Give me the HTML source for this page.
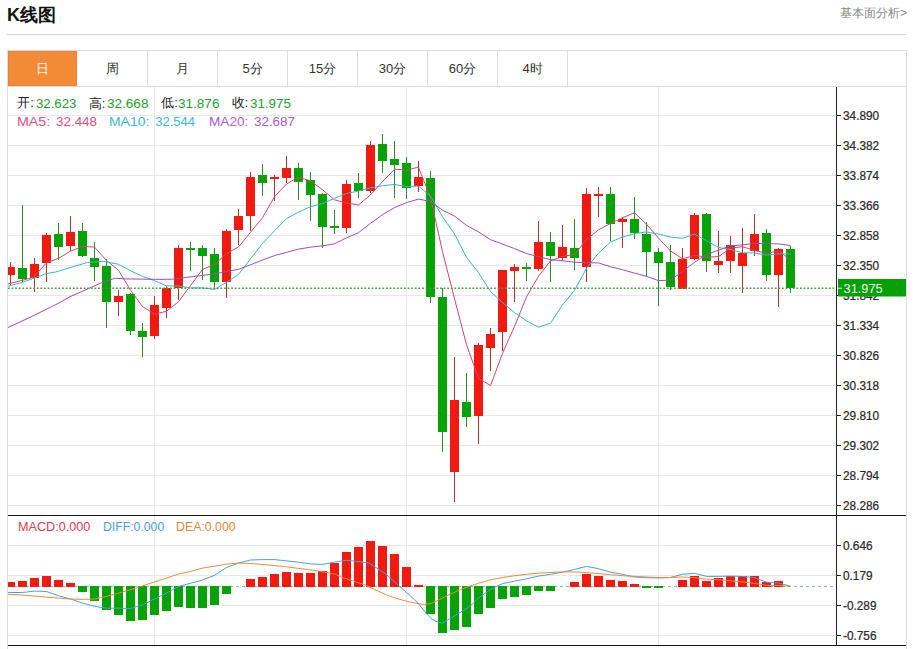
<!DOCTYPE html>
<html><head><meta charset="utf-8"><style>
html,body{margin:0;padding:0;background:#fff;width:913px;height:649px;overflow:hidden;position:relative;font-family:"Liberation Sans",sans-serif;}
.title{position:absolute;left:7px;top:2.5px;font-size:18px;font-weight:bold;color:#111;line-height:24px;}
.more{position:absolute;right:6px;top:5px;font-size:12px;color:#888;line-height:16px;}
.hr{position:absolute;left:7px;top:34px;width:899px;height:1px;background:#d0d0d0;}
.box{position:absolute;left:7px;top:50px;width:898px;height:599px;border:1px solid #ddd;border-bottom:none;}
.tabrow{position:absolute;left:7px;top:86px;width:899px;height:1px;background:#ddd;}
.tab{position:absolute;top:51px;width:70px;height:35px;line-height:35px;text-align:center;font-size:13px;color:#333;border-right:1px solid #ddd;box-sizing:border-box;}
.tab.on{background:#f38b36;color:#fffbef;border:1px solid #e2843e;width:69px;height:35px;line-height:33px;}
.info{position:absolute;left:18px;top:94px;font-size:13px;line-height:17px;color:#333;white-space:pre;}
.g{color:#2a9d3a}
</style></head><body>
<div class="title">K线图</div>
<div class="more">基本面分析&gt;</div>
<div class="hr"></div>
<div class="box"></div>
<div class="tab on" style="left:8px">日</div><div class="tab" style="left:78px">周</div><div class="tab" style="left:148px">月</div><div class="tab" style="left:218px">5分</div><div class="tab" style="left:288px">15分</div><div class="tab" style="left:358px">30分</div><div class="tab" style="left:428px">60分</div><div class="tab" style="left:498px">4时</div>
<div class="tabrow"></div>
<svg width="913" height="649" style="position:absolute;left:0;top:0"><line x1="8" y1="115.5" x2="836" y2="115.5" stroke="#e8e8e8" stroke-width="1"/>
<line x1="8" y1="145.5" x2="836" y2="145.5" stroke="#e8e8e8" stroke-width="1"/>
<line x1="8" y1="175.5" x2="836" y2="175.5" stroke="#e8e8e8" stroke-width="1"/>
<line x1="8" y1="205.5" x2="836" y2="205.5" stroke="#e8e8e8" stroke-width="1"/>
<line x1="8" y1="235.5" x2="836" y2="235.5" stroke="#e8e8e8" stroke-width="1"/>
<line x1="8" y1="265.5" x2="836" y2="265.5" stroke="#e8e8e8" stroke-width="1"/>
<line x1="8" y1="295.5" x2="836" y2="295.5" stroke="#e8e8e8" stroke-width="1"/>
<line x1="8" y1="325.5" x2="836" y2="325.5" stroke="#e8e8e8" stroke-width="1"/>
<line x1="8" y1="355.5" x2="836" y2="355.5" stroke="#e8e8e8" stroke-width="1"/>
<line x1="8" y1="385.5" x2="836" y2="385.5" stroke="#e8e8e8" stroke-width="1"/>
<line x1="8" y1="415.5" x2="836" y2="415.5" stroke="#e8e8e8" stroke-width="1"/>
<line x1="8" y1="445.5" x2="836" y2="445.5" stroke="#e8e8e8" stroke-width="1"/>
<line x1="8" y1="475.5" x2="836" y2="475.5" stroke="#e8e8e8" stroke-width="1"/>
<line x1="8" y1="505.5" x2="836" y2="505.5" stroke="#e8e8e8" stroke-width="1"/>
<line x1="8" y1="545.5" x2="836" y2="545.5" stroke="#e8e8e8" stroke-width="1"/>
<line x1="8" y1="575.5" x2="836" y2="575.5" stroke="#e8e8e8" stroke-width="1"/>
<line x1="8" y1="605.5" x2="836" y2="605.5" stroke="#e8e8e8" stroke-width="1"/>
<line x1="8" y1="635.5" x2="836" y2="635.5" stroke="#e8e8e8" stroke-width="1"/>
<line x1="154.5" y1="87" x2="154.5" y2="645" stroke="#e8e8e8" stroke-width="1"/>
<line x1="406.5" y1="87" x2="406.5" y2="645" stroke="#e8e8e8" stroke-width="1"/>
<line x1="658.5" y1="87" x2="658.5" y2="645" stroke="#e8e8e8" stroke-width="1"/>
<g shape-rendering="crispEdges">
<rect x="10.0" y="262.0" width="1" height="23.5" fill="#b83030"/>
<rect x="8.0" y="267.0" width="7.0" height="7.5" fill="#f01a10"/>
<rect x="22.0" y="204.5" width="1" height="77.5" fill="#2e8a2e"/>
<rect x="18.0" y="268.0" width="9.0" height="11.3" fill="#06a206"/>
<rect x="34.0" y="257.8" width="1" height="33.9" fill="#b83030"/>
<rect x="30.0" y="264.0" width="9.0" height="14.0" fill="#f01a10"/>
<rect x="46.0" y="233.0" width="1" height="49.0" fill="#b83030"/>
<rect x="42.0" y="234.5" width="9.0" height="28.5" fill="#f01a10"/>
<rect x="58.0" y="223.2" width="1" height="36.3" fill="#2e8a2e"/>
<rect x="54.0" y="234.0" width="9.0" height="12.6" fill="#06a206"/>
<rect x="70.0" y="216.0" width="1" height="34.5" fill="#b83030"/>
<rect x="66.0" y="231.6" width="9.0" height="14.8" fill="#f01a10"/>
<rect x="82.0" y="223.4" width="1" height="33.8" fill="#2e8a2e"/>
<rect x="78.0" y="231.3" width="9.0" height="24.2" fill="#06a206"/>
<rect x="94.0" y="242.4" width="1" height="38.5" fill="#2e8a2e"/>
<rect x="90.0" y="258.4" width="9.0" height="8.2" fill="#06a206"/>
<rect x="106.0" y="258.7" width="1" height="69.5" fill="#2e8a2e"/>
<rect x="102.0" y="266.1" width="9.0" height="36.2" fill="#06a206"/>
<rect x="118.0" y="290.0" width="1" height="26.4" fill="#b83030"/>
<rect x="114.0" y="295.7" width="9.0" height="6.6" fill="#f01a10"/>
<rect x="130.0" y="293.2" width="1" height="41.9" fill="#2e8a2e"/>
<rect x="126.0" y="294.2" width="9.0" height="36.5" fill="#06a206"/>
<rect x="142.0" y="322.5" width="1" height="34.1" fill="#2e8a2e"/>
<rect x="138.0" y="331.0" width="9.0" height="6.0" fill="#06a206"/>
<rect x="154.0" y="296.0" width="1" height="42.5" fill="#b83030"/>
<rect x="150.0" y="305.0" width="9.0" height="31.4" fill="#f01a10"/>
<rect x="166.0" y="286.0" width="1" height="32.1" fill="#b83030"/>
<rect x="162.0" y="288.0" width="9.0" height="19.8" fill="#f01a10"/>
<rect x="178.0" y="244.9" width="1" height="55.1" fill="#b83030"/>
<rect x="174.0" y="247.9" width="9.0" height="40.4" fill="#f01a10"/>
<rect x="190.0" y="241.7" width="1" height="29.6" fill="#2e8a2e"/>
<rect x="186.0" y="247.6" width="9.0" height="2.3" fill="#06a206"/>
<rect x="202.0" y="245.4" width="1" height="34.6" fill="#2e8a2e"/>
<rect x="198.0" y="247.6" width="9.0" height="8.4" fill="#06a206"/>
<rect x="214.0" y="248.1" width="1" height="41.2" fill="#2e8a2e"/>
<rect x="210.0" y="254.0" width="9.0" height="27.9" fill="#06a206"/>
<rect x="226.0" y="229.4" width="1" height="68.6" fill="#b83030"/>
<rect x="222.0" y="231.4" width="9.0" height="51.0" fill="#f01a10"/>
<rect x="238.0" y="209.2" width="1" height="35.8" fill="#b83030"/>
<rect x="234.0" y="215.8" width="9.0" height="14.3" fill="#f01a10"/>
<rect x="250.0" y="171.7" width="1" height="59.2" fill="#b83030"/>
<rect x="246.0" y="176.6" width="9.0" height="39.2" fill="#f01a10"/>
<rect x="262.0" y="164.0" width="1" height="32.4" fill="#2e8a2e"/>
<rect x="258.0" y="175.0" width="9.0" height="7.8" fill="#06a206"/>
<rect x="274.0" y="174.7" width="1" height="26.7" fill="#b83030"/>
<rect x="270.0" y="176.7" width="9.0" height="2.5" fill="#f01a10"/>
<rect x="286.0" y="155.7" width="1" height="27.2" fill="#b83030"/>
<rect x="282.0" y="168.1" width="9.0" height="10.3" fill="#f01a10"/>
<rect x="298.0" y="163.1" width="1" height="37.0" fill="#2e8a2e"/>
<rect x="294.0" y="168.1" width="9.0" height="13.5" fill="#06a206"/>
<rect x="310.0" y="171.8" width="1" height="49.3" fill="#2e8a2e"/>
<rect x="306.0" y="179.7" width="9.0" height="15.0" fill="#06a206"/>
<rect x="322.0" y="192.7" width="1" height="55.0" fill="#2e8a2e"/>
<rect x="318.0" y="194.0" width="9.0" height="33.2" fill="#06a206"/>
<rect x="334.0" y="210.0" width="1" height="23.9" fill="#2e8a2e"/>
<rect x="330.0" y="225.5" width="9.0" height="2.0" fill="#06a206"/>
<rect x="346.0" y="180.4" width="1" height="52.5" fill="#b83030"/>
<rect x="342.0" y="184.1" width="9.0" height="43.6" fill="#f01a10"/>
<rect x="358.0" y="173.0" width="1" height="24.7" fill="#2e8a2e"/>
<rect x="354.0" y="183.1" width="9.0" height="7.9" fill="#06a206"/>
<rect x="370.0" y="141.0" width="1" height="51.7" fill="#b83030"/>
<rect x="366.0" y="144.7" width="9.0" height="46.3" fill="#f01a10"/>
<rect x="382.0" y="134.3" width="1" height="38.2" fill="#2e8a2e"/>
<rect x="378.0" y="143.9" width="9.0" height="17.5" fill="#06a206"/>
<rect x="394.0" y="141.0" width="1" height="56.7" fill="#2e8a2e"/>
<rect x="390.0" y="159.0" width="9.0" height="5.9" fill="#06a206"/>
<rect x="406.0" y="156.5" width="1" height="42.9" fill="#2e8a2e"/>
<rect x="402.0" y="163.1" width="9.0" height="24.7" fill="#06a206"/>
<rect x="418.0" y="160.7" width="1" height="31.3" fill="#b83030"/>
<rect x="414.0" y="177.2" width="9.0" height="8.9" fill="#f01a10"/>
<rect x="430.0" y="171.3" width="1" height="131.8" fill="#2e8a2e"/>
<rect x="426.0" y="178.2" width="9.0" height="118.5" fill="#06a206"/>
<rect x="442.0" y="288.0" width="1" height="164.4" fill="#2e8a2e"/>
<rect x="438.0" y="297.1" width="9.0" height="134.6" fill="#06a206"/>
<rect x="454.0" y="357.1" width="1" height="144.5" fill="#b83030"/>
<rect x="450.0" y="400.2" width="9.0" height="71.8" fill="#f01a10"/>
<rect x="466.0" y="373.2" width="1" height="53.3" fill="#2e8a2e"/>
<rect x="462.0" y="401.9" width="9.0" height="15.1" fill="#06a206"/>
<rect x="478.0" y="343.0" width="1" height="100.8" fill="#b83030"/>
<rect x="474.0" y="345.2" width="9.0" height="70.7" fill="#f01a10"/>
<rect x="490.0" y="328.0" width="1" height="43.1" fill="#b83030"/>
<rect x="486.0" y="333.8" width="9.0" height="14.6" fill="#f01a10"/>
<rect x="502.0" y="269.7" width="1" height="80.9" fill="#b83030"/>
<rect x="498.0" y="270.1" width="9.0" height="61.5" fill="#f01a10"/>
<rect x="514.0" y="263.9" width="1" height="38.2" fill="#b83030"/>
<rect x="510.0" y="266.5" width="9.0" height="4.3" fill="#f01a10"/>
<rect x="526.0" y="263.2" width="1" height="17.9" fill="#2e8a2e"/>
<rect x="522.0" y="267.1" width="9.0" height="2.0" fill="#06a206"/>
<rect x="538.0" y="221.4" width="1" height="49.3" fill="#b83030"/>
<rect x="534.0" y="242.1" width="9.0" height="26.6" fill="#f01a10"/>
<rect x="550.0" y="231.7" width="1" height="49.8" fill="#2e8a2e"/>
<rect x="546.0" y="241.6" width="9.0" height="14.8" fill="#06a206"/>
<rect x="562.0" y="224.8" width="1" height="36.5" fill="#b83030"/>
<rect x="558.0" y="247.2" width="9.0" height="11.1" fill="#f01a10"/>
<rect x="574.0" y="218.9" width="1" height="51.0" fill="#2e8a2e"/>
<rect x="570.0" y="247.7" width="9.0" height="9.9" fill="#06a206"/>
<rect x="586.0" y="187.8" width="1" height="93.7" fill="#b83030"/>
<rect x="582.0" y="194.2" width="9.0" height="72.5" fill="#f01a10"/>
<rect x="598.0" y="187.3" width="1" height="30.1" fill="#b83030"/>
<rect x="594.0" y="194.2" width="9.0" height="2.0" fill="#f01a10"/>
<rect x="610.0" y="186.8" width="1" height="54.3" fill="#2e8a2e"/>
<rect x="606.0" y="194.0" width="9.0" height="29.6" fill="#06a206"/>
<rect x="622.0" y="216.9" width="1" height="30.8" fill="#b83030"/>
<rect x="618.0" y="218.9" width="9.0" height="2.9" fill="#f01a10"/>
<rect x="634.0" y="196.7" width="1" height="42.4" fill="#2e8a2e"/>
<rect x="630.0" y="218.9" width="9.0" height="14.0" fill="#06a206"/>
<rect x="646.0" y="221.6" width="1" height="54.2" fill="#2e8a2e"/>
<rect x="642.0" y="233.5" width="9.0" height="18.5" fill="#06a206"/>
<rect x="658.0" y="247.7" width="1" height="58.0" fill="#2e8a2e"/>
<rect x="654.0" y="252.2" width="9.0" height="11.1" fill="#06a206"/>
<rect x="670.0" y="245.3" width="1" height="45.1" fill="#2e8a2e"/>
<rect x="666.0" y="262.0" width="9.0" height="25.2" fill="#06a206"/>
<rect x="682.0" y="247.7" width="1" height="41.2" fill="#b83030"/>
<rect x="678.0" y="259.3" width="9.0" height="29.6" fill="#f01a10"/>
<rect x="694.0" y="213.2" width="1" height="46.8" fill="#b83030"/>
<rect x="690.0" y="215.0" width="9.0" height="43.8" fill="#f01a10"/>
<rect x="706.0" y="213.2" width="1" height="58.4" fill="#2e8a2e"/>
<rect x="702.0" y="214.0" width="9.0" height="46.8" fill="#06a206"/>
<rect x="718.0" y="231.2" width="1" height="41.9" fill="#b83030"/>
<rect x="714.0" y="260.6" width="9.0" height="3.9" fill="#f01a10"/>
<rect x="730.0" y="235.9" width="1" height="37.4" fill="#b83030"/>
<rect x="726.0" y="244.6" width="9.0" height="16.0" fill="#f01a10"/>
<rect x="742.0" y="228.0" width="1" height="65.3" fill="#b83030"/>
<rect x="738.0" y="252.7" width="9.0" height="13.0" fill="#f01a10"/>
<rect x="754.0" y="214.4" width="1" height="41.3" fill="#b83030"/>
<rect x="750.0" y="233.7" width="9.0" height="17.2" fill="#f01a10"/>
<rect x="766.0" y="228.7" width="1" height="52.7" fill="#2e8a2e"/>
<rect x="762.0" y="232.9" width="9.0" height="42.0" fill="#06a206"/>
<rect x="778.0" y="248.4" width="1" height="58.8" fill="#b83030"/>
<rect x="774.0" y="249.0" width="9.0" height="25.5" fill="#f01a10"/>
<rect x="790.0" y="246.2" width="1" height="46.8" fill="#2e8a2e"/>
<rect x="786.0" y="249.0" width="9.0" height="38.5" fill="#06a206"/>
</g>
<polyline points="8.0,283.9 22.3,280.4 33.9,277.0 46.2,263.1 58.5,258.3 70.5,251.2 82.5,246.4 94.5,247.0 106.5,260.5 118.5,270.3 130.5,290.2 142.5,306.5 154.5,314.1 166.5,311.3 178.5,301.7 190.5,285.6 202.5,269.4 214.5,264.7 226.5,253.4 238.5,247.0 250.5,232.3 262.5,217.7 274.5,196.7 286.5,184.0 298.5,177.2 310.5,180.8 322.5,189.7 334.5,199.8 346.5,203.0 358.5,204.9 370.5,194.9 382.5,181.7 394.5,169.2 406.5,170.0 418.5,167.2 430.5,197.6 442.5,251.7 454.5,298.7 466.5,344.6 478.5,378.2 490.5,385.6 502.5,353.3 514.5,326.5 526.5,296.9 538.5,276.3 550.5,260.8 562.5,256.3 574.5,254.5 586.5,239.5 598.5,229.9 610.5,223.4 622.5,217.7 634.5,212.8 646.5,224.3 658.5,238.1 670.5,250.9 682.5,258.9 694.5,255.4 706.5,257.1 718.5,256.6 730.5,248.1 742.5,246.7 754.5,250.5 766.5,253.3 778.5,251.0 790.5,259.6" fill="none" stroke="#d4456c" stroke-width="1" stroke-linejoin="round"/>
<polyline points="8.0,286.2 22.3,282.4 33.9,278.2 46.2,273.6 55.5,272.0 60.0,270.7 74.2,266.3 87.4,262.5 103.8,261.4 118.5,264.3 130.5,270.7 142.5,276.4 154.5,280.6 166.5,285.9 178.5,286.0 190.5,287.9 202.5,287.9 214.5,289.4 226.5,282.4 238.5,274.4 250.5,258.9 262.5,243.5 274.5,230.7 286.5,218.7 298.5,212.1 310.5,206.6 322.5,203.7 334.5,198.2 346.5,193.5 358.5,191.0 370.5,187.8 382.5,185.7 394.5,184.5 406.5,186.5 418.5,186.1 430.5,196.2 442.5,216.7 454.5,234.0 466.5,257.3 478.5,272.7 490.5,291.6 502.5,302.5 514.5,312.6 526.5,320.8 538.5,327.2 550.5,323.2 562.5,304.8 574.5,290.5 586.5,268.2 598.5,253.1 610.5,242.1 622.5,237.0 634.5,233.6 646.5,231.9 658.5,234.0 670.5,237.1 682.5,238.3 694.5,234.1 706.5,240.7 718.5,247.4 730.5,249.5 742.5,252.8 754.5,252.9 766.5,255.2 778.5,253.8 790.5,253.8" fill="none" stroke="#38b6c4" stroke-width="1" stroke-linejoin="round"/>
<polyline points="8.0,327.5 33.0,315.9 59.0,303.0 70.0,296.7 81.9,291.5 101.6,282.7 114.8,278.3 125.7,278.9 160.0,279.4 171.9,279.2 193.8,276.5 215.7,273.7 238.5,269.3 250.5,264.8 262.5,260.0 274.5,255.6 286.5,252.3 298.5,249.1 310.5,247.2 322.5,245.8 334.5,243.8 346.5,237.9 358.5,232.7 370.5,223.4 382.5,214.6 394.5,207.6 406.5,202.6 418.5,199.1 430.5,201.4 442.5,210.2 454.5,216.1 466.5,225.4 478.5,231.9 490.5,239.7 502.5,244.1 514.5,248.6 526.5,253.6 538.5,256.6 550.5,259.7 562.5,260.7 574.5,262.2 586.5,262.7 598.5,262.9 610.5,266.8 622.5,269.7 634.5,273.1 646.5,276.3 658.5,280.6 670.5,280.2 682.5,271.5 694.5,262.3 706.5,254.5 718.5,250.2 730.5,245.8 742.5,244.9 754.5,243.3 766.5,243.6 778.5,243.9 790.5,245.5" fill="none" stroke="#9c50b4" stroke-width="1" stroke-linejoin="round"/>
<line x1="8" y1="288.2" x2="836" y2="288.2" stroke="#4f9a4f" stroke-width="1.4" stroke-dasharray="1.8,1.8"/>
<line x1="8" y1="586.5" x2="836" y2="586.5" stroke="#98aeb4" stroke-width="1" stroke-dasharray="3,3"/>
<g shape-rendering="crispEdges">
<rect x="8.0" y="582.2" width="7.0" height="4.8" fill="#f01a10"/>
<rect x="18.0" y="581.3" width="9.0" height="5.7" fill="#f01a10"/>
<rect x="30.0" y="578.0" width="9.0" height="9.0" fill="#f01a10"/>
<rect x="42.0" y="575.8" width="9.0" height="11.2" fill="#f01a10"/>
<rect x="54.0" y="579.7" width="9.0" height="7.3" fill="#f01a10"/>
<rect x="66.0" y="583.3" width="9.0" height="3.7" fill="#f01a10"/>
<rect x="78.0" y="586.0" width="9.0" height="6.1" fill="#06a206"/>
<rect x="90.0" y="586.0" width="9.0" height="14.6" fill="#06a206"/>
<rect x="102.0" y="586.0" width="9.0" height="23.6" fill="#06a206"/>
<rect x="114.0" y="586.0" width="9.0" height="28.8" fill="#06a206"/>
<rect x="126.0" y="586.0" width="9.0" height="34.7" fill="#06a206"/>
<rect x="138.0" y="586.0" width="9.0" height="34.2" fill="#06a206"/>
<rect x="150.0" y="586.0" width="9.0" height="29.1" fill="#06a206"/>
<rect x="162.0" y="586.0" width="9.0" height="25.3" fill="#06a206"/>
<rect x="174.0" y="586.0" width="9.0" height="21.3" fill="#06a206"/>
<rect x="186.0" y="586.0" width="9.0" height="22.2" fill="#06a206"/>
<rect x="198.0" y="586.0" width="9.0" height="22.0" fill="#06a206"/>
<rect x="210.0" y="586.0" width="9.0" height="19.0" fill="#06a206"/>
<rect x="222.0" y="586.0" width="9.0" height="7.8" fill="#06a206"/>
<rect x="246.0" y="579.3" width="9.0" height="7.7" fill="#f01a10"/>
<rect x="258.0" y="577.3" width="9.0" height="9.7" fill="#f01a10"/>
<rect x="270.0" y="574.4" width="9.0" height="12.6" fill="#f01a10"/>
<rect x="282.0" y="572.3" width="9.0" height="14.7" fill="#f01a10"/>
<rect x="294.0" y="573.1" width="9.0" height="13.9" fill="#f01a10"/>
<rect x="306.0" y="572.7" width="9.0" height="14.3" fill="#f01a10"/>
<rect x="318.0" y="571.0" width="9.0" height="16.0" fill="#f01a10"/>
<rect x="330.0" y="562.9" width="9.0" height="24.1" fill="#f01a10"/>
<rect x="342.0" y="552.1" width="9.0" height="34.9" fill="#f01a10"/>
<rect x="354.0" y="546.9" width="9.0" height="40.1" fill="#f01a10"/>
<rect x="366.0" y="541.0" width="9.0" height="46.0" fill="#f01a10"/>
<rect x="378.0" y="546.1" width="9.0" height="40.9" fill="#f01a10"/>
<rect x="390.0" y="553.7" width="9.0" height="33.3" fill="#f01a10"/>
<rect x="402.0" y="567.3" width="9.0" height="19.7" fill="#f01a10"/>
<rect x="414.0" y="585.1" width="9.0" height="1.9" fill="#f01a10"/>
<rect x="426.0" y="586.0" width="9.0" height="28.4" fill="#06a206"/>
<rect x="438.0" y="586.0" width="9.0" height="47.4" fill="#06a206"/>
<rect x="450.0" y="586.0" width="9.0" height="43.7" fill="#06a206"/>
<rect x="462.0" y="586.0" width="9.0" height="40.6" fill="#06a206"/>
<rect x="474.0" y="586.0" width="9.0" height="28.1" fill="#06a206"/>
<rect x="486.0" y="586.0" width="9.0" height="21.6" fill="#06a206"/>
<rect x="498.0" y="586.0" width="9.0" height="12.5" fill="#06a206"/>
<rect x="510.0" y="586.0" width="9.0" height="11.2" fill="#06a206"/>
<rect x="522.0" y="586.0" width="9.0" height="9.1" fill="#06a206"/>
<rect x="534.0" y="586.0" width="9.0" height="5.3" fill="#06a206"/>
<rect x="546.0" y="586.0" width="9.0" height="4.5" fill="#06a206"/>
<rect x="570.0" y="582.2" width="9.0" height="4.8" fill="#f01a10"/>
<rect x="582.0" y="573.6" width="9.0" height="13.4" fill="#f01a10"/>
<rect x="594.0" y="575.7" width="9.0" height="11.3" fill="#f01a10"/>
<rect x="606.0" y="579.5" width="9.0" height="7.5" fill="#f01a10"/>
<rect x="618.0" y="580.5" width="9.0" height="6.5" fill="#f01a10"/>
<rect x="630.0" y="584.0" width="9.0" height="3.0" fill="#f01a10"/>
<rect x="642.0" y="586.0" width="9.0" height="1.5" fill="#06a206"/>
<rect x="654.0" y="586.0" width="9.0" height="1.7" fill="#06a206"/>
<rect x="678.0" y="579.8" width="9.0" height="7.2" fill="#f01a10"/>
<rect x="690.0" y="576.1" width="9.0" height="10.9" fill="#f01a10"/>
<rect x="702.0" y="580.5" width="9.0" height="6.5" fill="#f01a10"/>
<rect x="714.0" y="578.4" width="9.0" height="8.6" fill="#f01a10"/>
<rect x="726.0" y="576.1" width="9.0" height="10.9" fill="#f01a10"/>
<rect x="738.0" y="576.4" width="9.0" height="10.6" fill="#f01a10"/>
<rect x="750.0" y="576.4" width="9.0" height="10.6" fill="#f01a10"/>
<rect x="762.0" y="581.9" width="9.0" height="5.1" fill="#f01a10"/>
<rect x="774.0" y="581.2" width="9.0" height="5.8" fill="#f01a10"/>
</g>
<polyline points="8.0,592.5 22.5,592.5 34.5,591.1 46.5,591.5 58.5,595.7 70.5,599.0 82.5,603.0 94.5,606.3 106.5,608.2 118.5,608.2 130.5,608.6 142.5,605.0 154.5,599.0 166.5,593.1 178.5,586.5 190.5,583.3 202.5,580.0 214.5,575.4 226.5,567.5 238.5,563.1 250.5,560.0 262.5,559.6 274.5,559.6 286.5,560.9 298.5,562.2 310.5,563.9 322.5,564.4 334.5,562.2 346.5,560.2 358.5,561.5 369.0,563.0 385.7,573.9 398.5,585.4 410.5,596.0 418.7,603.8 426.6,613.9 431.0,618.5 437.1,621.8 442.3,623.3 447.6,620.0 459.9,612.6 470.4,606.0 478.5,597.9 490.5,589.5 502.5,583.6 514.5,581.2 526.5,578.8 538.5,576.1 550.5,574.3 562.5,572.2 574.5,569.4 586.5,566.4 598.5,568.7 610.5,572.2 622.5,574.3 634.5,577.0 646.5,577.7 658.5,578.0 670.5,577.5 682.5,574.3 694.5,573.3 706.5,576.4 718.5,576.4 730.5,576.1 742.5,576.4 754.5,577.7 766.5,582.2 778.5,583.0 790.5,586.3" fill="none" stroke="#4a9ee0" stroke-width="1" stroke-linejoin="round"/>
<polyline points="8.0,594.4 22.5,595.1 34.5,596.0 46.5,597.1 58.5,598.1 70.5,599.0 82.5,599.4 94.5,599.0 106.5,596.4 118.5,593.1 130.5,589.8 142.5,585.9 154.5,582.0 166.5,578.0 178.5,574.1 190.5,571.4 202.5,568.1 214.5,566.2 226.5,564.2 238.5,563.1 250.5,563.5 262.5,564.4 274.5,565.5 286.5,566.8 298.5,568.4 310.5,569.8 322.5,571.8 334.5,574.0 341.9,577.4 363.8,584.4 377.0,590.5 386.5,595.0 398.5,599.0 406.4,601.2 418.7,603.8 423.9,604.3 430.0,603.8 438.8,599.9 447.6,595.5 459.9,589.8 469.5,586.3 478.5,583.3 490.5,579.8 502.5,577.5 514.5,575.7 526.5,574.3 538.5,573.2 550.5,572.5 562.5,571.9 574.5,571.9 586.5,572.6 598.5,573.6 610.5,574.7 622.5,575.7 634.5,576.4 646.5,577.0 658.5,577.5 670.5,577.5 682.5,577.0 694.5,577.7 706.5,579.1 718.5,579.8 730.5,580.8 742.5,581.9 754.5,583.3 766.5,585.4 778.5,585.4 790.5,586.3" fill="none" stroke="#ec8a3c" stroke-width="1" stroke-linejoin="round"/>
<g shape-rendering="crispEdges">
<line x1="836.5" y1="87" x2="836.5" y2="645" stroke="#222" stroke-width="1"/>
<line x1="8" y1="515.5" x2="906" y2="515.5" stroke="#151515" stroke-width="1"/>
<line x1="8" y1="645.5" x2="906" y2="645.5" stroke="#111" stroke-width="1"/>
<line x1="836" y1="115.5" x2="841" y2="115.5" stroke="#222" stroke-width="1"/>
<line x1="836" y1="145.5" x2="841" y2="145.5" stroke="#222" stroke-width="1"/>
<line x1="836" y1="175.5" x2="841" y2="175.5" stroke="#222" stroke-width="1"/>
<line x1="836" y1="205.5" x2="841" y2="205.5" stroke="#222" stroke-width="1"/>
<line x1="836" y1="235.5" x2="841" y2="235.5" stroke="#222" stroke-width="1"/>
<line x1="836" y1="265.5" x2="841" y2="265.5" stroke="#222" stroke-width="1"/>
<line x1="836" y1="295.5" x2="841" y2="295.5" stroke="#222" stroke-width="1"/>
<line x1="836" y1="325.5" x2="841" y2="325.5" stroke="#222" stroke-width="1"/>
<line x1="836" y1="355.5" x2="841" y2="355.5" stroke="#222" stroke-width="1"/>
<line x1="836" y1="385.5" x2="841" y2="385.5" stroke="#222" stroke-width="1"/>
<line x1="836" y1="415.5" x2="841" y2="415.5" stroke="#222" stroke-width="1"/>
<line x1="836" y1="445.5" x2="841" y2="445.5" stroke="#222" stroke-width="1"/>
<line x1="836" y1="475.5" x2="841" y2="475.5" stroke="#222" stroke-width="1"/>
<line x1="836" y1="505.5" x2="841" y2="505.5" stroke="#222" stroke-width="1"/>
<line x1="836" y1="545.5" x2="841" y2="545.5" stroke="#222" stroke-width="1"/>
<line x1="836" y1="575.5" x2="841" y2="575.5" stroke="#222" stroke-width="1"/>
<line x1="836" y1="605.5" x2="841" y2="605.5" stroke="#222" stroke-width="1"/>
<line x1="836" y1="635.5" x2="841" y2="635.5" stroke="#222" stroke-width="1"/>
</g>
<g font-family="Liberation Sans, sans-serif" font-size="13" fill="#2a2a2a" stroke="#2a2a2a" stroke-width="0.25"><text transform="translate(843,119.9) scale(0.91,1)">34.890</text><text transform="translate(843,149.9) scale(0.91,1)">34.382</text><text transform="translate(843,179.9) scale(0.91,1)">33.874</text><text transform="translate(843,209.9) scale(0.91,1)">33.366</text><text transform="translate(843,239.9) scale(0.91,1)">32.858</text><text transform="translate(843,269.9) scale(0.91,1)">32.350</text><text transform="translate(843,299.9) scale(0.91,1)">31.842</text><text transform="translate(843,329.9) scale(0.91,1)">31.334</text><text transform="translate(843,359.9) scale(0.91,1)">30.826</text><text transform="translate(843,389.9) scale(0.91,1)">30.318</text><text transform="translate(843,419.9) scale(0.91,1)">29.810</text><text transform="translate(843,449.9) scale(0.91,1)">29.302</text><text transform="translate(843,479.9) scale(0.91,1)">28.794</text><text transform="translate(843,509.9) scale(0.91,1)">28.286</text><text transform="translate(843,549.9) scale(0.91,1)">0.646</text><text transform="translate(843,579.9) scale(0.91,1)">0.179</text><text transform="translate(843,609.9) scale(0.91,1)">-0.289</text><text transform="translate(843,639.9) scale(0.91,1)">-0.756</text></g>
<rect x="838" y="279" width="68" height="17.5" fill="#06a006"/>
<rect x="838" y="287.7" width="4" height="1" fill="#dfffdf"/>
<text transform="translate(843.5,292.8) scale(0.95,1)" font-family="Liberation Sans, sans-serif" font-size="13.5" fill="#e8ffe8">31.975</text></svg>
<div style="position:absolute;left:17.23px;top:96.3px;font-size:13px;line-height:13px;color:#222;white-space:pre;">开:</div><div style="position:absolute;left:36.08px;top:96.6px;font-size:13px;line-height:13px;color:#1e9e2e;white-space:pre;transform:scaleX(1.016);transform-origin:0 0;">32.623</div><div style="position:absolute;left:88.87px;top:97.3px;font-size:13px;line-height:13px;color:#222;white-space:pre;">高:</div><div style="position:absolute;left:106.96px;top:96.6px;font-size:13px;line-height:13px;color:#1e9e2e;white-space:pre;transform:scaleX(1.042);transform-origin:0 0;">32.668</div><div style="position:absolute;left:161.3px;top:96.3px;font-size:13px;line-height:13px;color:#222;white-space:pre;">低:</div><div style="position:absolute;left:178.06px;top:96.6px;font-size:13px;line-height:13px;color:#1e9e2e;white-space:pre;transform:scaleX(1.042);transform-origin:0 0;">31.876</div><div style="position:absolute;left:231.8px;top:96.3px;font-size:13px;line-height:13px;color:#222;white-space:pre;">收:</div><div style="position:absolute;left:250.17px;top:96.6px;font-size:13px;line-height:13px;color:#1e9e2e;white-space:pre;transform:scaleX(1.026);transform-origin:0 0;">31.975</div><div style="position:absolute;left:17.4px;top:114.8px;font-size:13px;line-height:13px;color:#dc4f86;white-space:pre;transform:scaleX(1.096);transform-origin:0 0;">MA5:</div><div style="position:absolute;left:55.77px;top:114.8px;font-size:13px;line-height:13px;color:#dc4f86;white-space:pre;transform:scaleX(1.032);transform-origin:0 0;">32.448</div><div style="position:absolute;left:108.93px;top:114.8px;font-size:13px;line-height:13px;color:#3ab8d6;white-space:pre;transform:scaleX(1.072);transform-origin:0 0;">MA10:</div><div style="position:absolute;left:155.29px;top:114.8px;font-size:13px;line-height:13px;color:#3ab8d6;white-space:pre;">32.544</div><div style="position:absolute;left:209.05px;top:114.8px;font-size:13px;line-height:13px;color:#ae5cc6;white-space:pre;transform:scaleX(1.047);transform-origin:0 0;">MA20:</div><div style="position:absolute;left:254.47px;top:114.8px;font-size:13px;line-height:13px;color:#ae5cc6;white-space:pre;transform:scaleX(1.029);transform-origin:0 0;">32.687</div><div style="position:absolute;left:17.79px;top:521.0px;font-size:12.5px;line-height:12.5px;color:#d8404f;white-space:pre;transform:scaleX(1.01);transform-origin:0 0;">MACD:0.000</div><div style="position:absolute;left:102.72px;top:521.0px;font-size:12.5px;line-height:12.5px;color:#4a9ee0;white-space:pre;transform:scaleX(0.979);transform-origin:0 0;">DIFF:0.000</div><div style="position:absolute;left:175.71px;top:521.0px;font-size:12.5px;line-height:12.5px;color:#e8863a;white-space:pre;transform:scaleX(0.988);transform-origin:0 0;">DEA:0.000</div>
</body></html>
